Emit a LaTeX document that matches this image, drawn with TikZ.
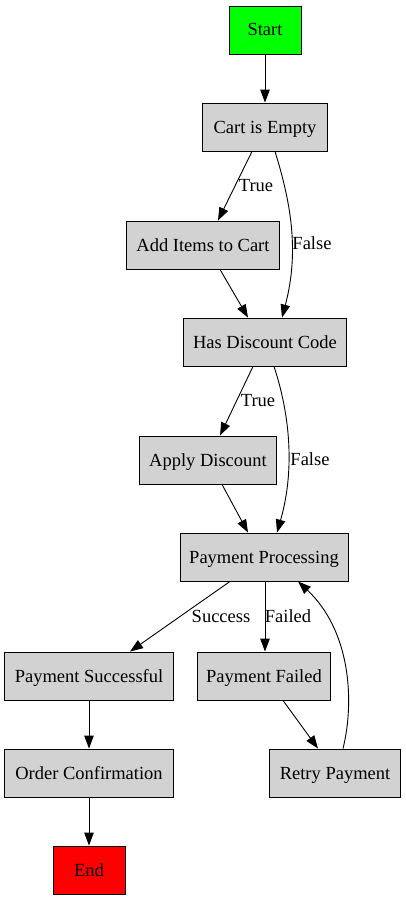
\documentclass[tikz,border=0pt]{standalone}
\usepackage{fontspec}
\setmainfont{Liberation Serif}
\newfontfamily\tnr{Liberation Serif}
\usetikzlibrary{arrows.meta}
\begin{document}
\begin{tikzpicture}[x=1pt,y=-1pt,
  box/.style={draw=black,line width=0.9pt,fill=gray!35,minimum height=48pt,inner sep=0pt,text height=16pt,text depth=4pt,font=\tnr\fontsize{18.5}{20}\selectfont},
  lbl/.style={font=\tnr\fontsize{18.5}{20}\selectfont,inner sep=0pt,text height=14pt,text depth=4pt},
  edge/.style={draw=black,line width=0.9pt,-{Triangle[length=13pt,width=9.5pt]}}]
\useasboundingbox (0,0) rectangle (406,899);
\node[box,fill={rgb,255:red,0;green,255;blue,0},minimum width=72pt] (start) at (265,30) {Start};
\node[box,minimum width=125pt] (cart) at (265,127) {Cart is Empty};
\node[box,minimum width=153pt] (add) at (203,245) {Add Items to Cart};
\node[box,minimum width=163pt] (disc) at (265,342) {Has Discount Code};
\node[box,minimum width=137pt] (apply) at (208,460) {Apply Discount};
\node[box,minimum width=168pt] (pp) at (264,557) {Payment Processing};
\node[box,minimum width=169pt] (ps) at (89,676) {Payment Successful};
\node[box,minimum width=133pt] (pf) at (264,676) {Payment Failed};
\node[box,minimum width=169pt] (oc) at (89,773) {Order Confirmation};
\node[box,minimum width=131pt] (retry) at (335,773) {Retry Payment};
\node[box,fill={rgb,255:red,255;green,0;blue,0},minimum width=72pt] (end) at (89,870) {End};

\draw[edge] (start.south) -- (cart.north);
\draw[edge] ([xshift=-13pt]cart.south) -- ([xshift=15pt]add.north);
\draw[edge] ([xshift=10pt]cart.south) .. controls (290,200) and (300,250) .. ([xshift=17pt]disc.north);
\draw[edge] ([xshift=17pt]add.south) -- ([xshift=-17pt]disc.north);
\draw[edge] ([xshift=-12pt]disc.south) -- ([xshift=12pt]apply.north);
\draw[edge] ([xshift=9pt]disc.south) .. controls (290,415) and (295,470) .. ([xshift=13pt]pp.north);
\draw[edge] ([xshift=14pt]apply.south) -- ([xshift=-16pt]pp.north);
\draw[edge] ([xshift=-34pt]pp.south) -- ([xshift=41pt]ps.north);
\draw[edge] ([xshift=1pt]pp.south) -- ([xshift=1pt]pf.north);
\draw[edge] ([xshift=19pt]pf.south) -- ([xshift=-17pt]retry.north);
\draw[edge] ([xshift=8pt]retry.north) .. controls (355,700) and (350,630) .. ([xshift=34pt]pp.south);
\draw[edge] (ps.south) -- (oc.north);
\draw[edge] (oc.south) -- (end.north);

\node[lbl] (l1) at (256,186) {True};
\node[lbl] (l2) at (312,244) {False};
\node[lbl] (l3) at (258,401) {True};
\node[lbl] (l4) at (310,460) {False};
\node[lbl] (l5) at (221,617) {Success};
\node[lbl] (l6) at (288,617) {Failed};
\end{tikzpicture}
\end{document}
